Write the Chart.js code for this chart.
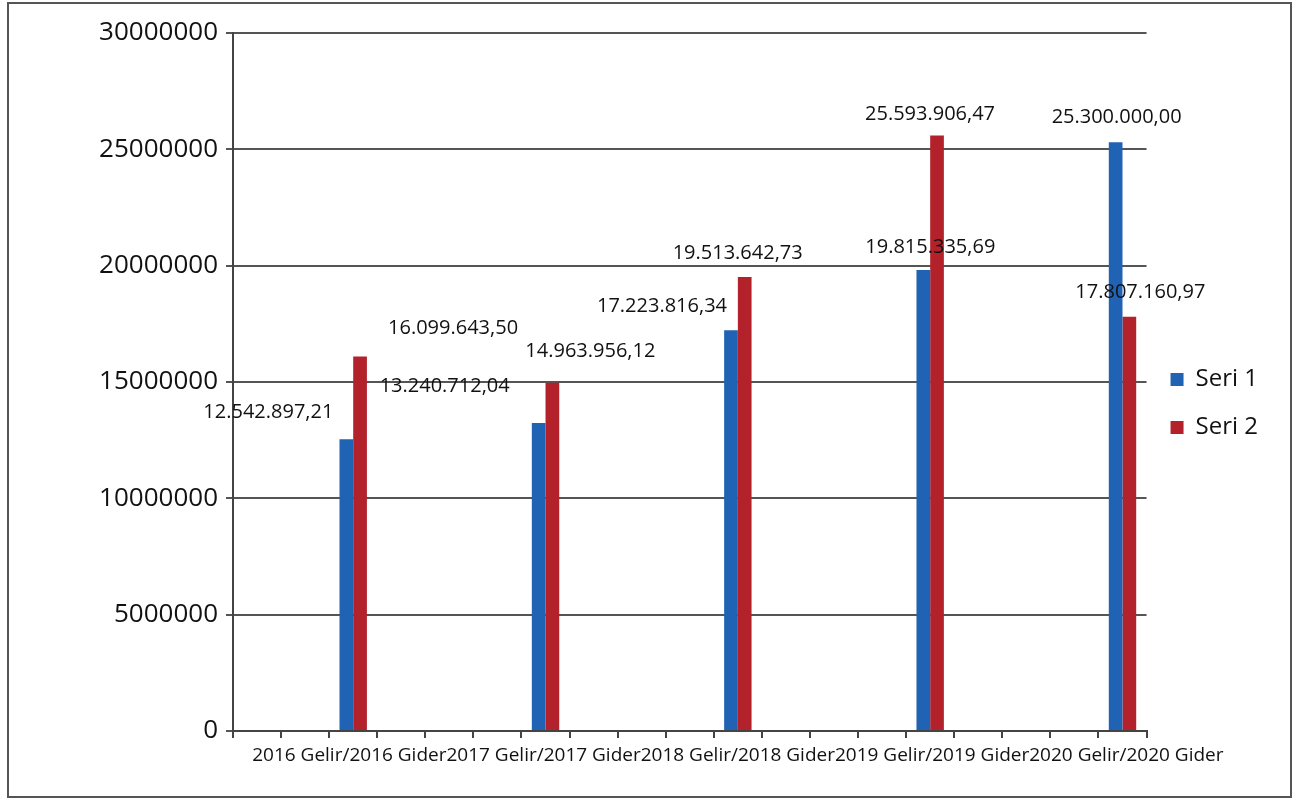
<!DOCTYPE html>
<html>
<head>
<meta charset="utf-8">
<script src="https://cdn.jsdelivr.net/npm/chart.js@4.4.0/dist/chart.umd.min.js"></script>
<style>
  body { margin: 0; background: #fff; }
  #wrap { position: relative; width: 1298px; height: 800px; }
  #frame { position: absolute; left: 7px; top: 2px; width: 1281px; height: 792px; border: 2px solid #555; pointer-events: none; }
</style>
</head>
<body>
<div id="wrap">
  <canvas id="gelirGiderChart" width="1298" height="800"></canvas>
  <div id="frame"></div>
</div>
<script>
// Kategoriler: 19 slot, veriler sadece 2, 6, 10, 14, 18. slotlarda
var xText = '2016 Gelir/2016 Gider2017 Gelir/2017 Gider2018 Gelir/2018 Gider2019 Gelir/2019 Gider2020 Gelir/2020 Gider';
var categories = ['', '', '', '', '', '', '', '', '', '', xText, '', '', '', '', '', '', '', ''];

// Seri 1 ve Seri 2 degerleri
var seri1 = [null, null, 12542897.21, null, null, null, 13240712.04, null, null, null, 17223816.34, null, null, null, 19815335.69, null, null, null, 25300000.00];
var seri2 = [null, null, 16099643.50, null, null, null, 14963956.12, null, null, null, 19513642.73, null, null, null, 25593906.47, null, null, null, 17807160.97];

var yTicks = [0, 5000000, 10000000, 15000000, 20000000, 25000000, 30000000];

// Etiketlerin cubuk ustune gore kaydirmasi (px)
var labelShift = [
    [[-78, -27], [-94, -37], [-69, -24], [7, -23], [1, -25]],
    [[93, -28], [38, -32], [-7, -24], [-7, -21], [11, -24]]
];

var font = "'Open Sans', 'Liberation Sans', sans-serif";

function formatTr(v) {
    var parts = v.toFixed(2).split('.');
    return parts[0].replace(/\B(?=(\d{3})+(?!\d))/g, '.') + ',' + parts[1];
}

var barLabels = {
    id: 'barLabels',
    afterDatasetsDraw: function(chart) {
        var ctx = chart.ctx;
        ctx.save();
        ctx.font = '20px ' + font;
        ctx.fillStyle = '#111';
        ctx.textAlign = 'center';
        ctx.textBaseline = 'middle';
        chart.data.datasets.forEach(function(ds, di) {
            var meta = chart.getDatasetMeta(di);
            var k = 0;
            ds.data.forEach(function(v, i) {
                if (v === null) return;
                var el = meta.data[i];
                var s = labelShift[di][k++];
                ctx.fillText(formatTr(v), el.x + s[0], el.y + s[1]);
            });
        });
        ctx.restore();
    }
};

var ctx = document.getElementById('gelirGiderChart').getContext('2d');
var chart = new Chart(ctx, {
    type: 'bar',
    data: {
        labels: categories,
        datasets: [
            { label: 'Seri 1', data: seri1, backgroundColor: '#2062b3' },
            { label: 'Seri 2', data: seri2, backgroundColor: '#b3222b' }
        ]
    },
    options: {
        responsive: false,
        animation: false,
        datasets: { bar: { categoryPercentage: 0.57, barPercentage: 1 } },
        layout: { padding: { top: 33, right: 30, bottom: 26, left: 0 } },
        scales: {
            x: {
                grid: { drawOnChartArea: false, drawTicks: true, tickLength: 7, color: '#444', lineWidth: 2, offset: true },
                border: { color: '#444', width: 2 },
                ticks: { autoSkip: false, maxRotation: 0, minRotation: 0, padding: 6, color: '#111', font: { family: font, size: 19 } },
                afterFit: function(scale) { scale.height = 43; }
            },
            y: {
                min: 0,
                max: 30000000,
                afterBuildTicks: function(scale) { scale.ticks = yTicks.map(function(v) { return { value: v }; }); },
                grid: { color: '#555', lineWidth: 2, tickLength: 7 },
                border: { color: '#444', width: 2 },
                ticks: { padding: 8, color: '#111', font: { family: font, size: 26 }, callback: function(v) { return String(v); } },
                afterFit: function(scale) { scale.width = 233; }
            }
        },
        plugins: {
            legend: {
                position: 'right',
                labels: { boxWidth: 13, boxHeight: 13, padding: 24, color: '#111', font: { family: font, size: 24 } }
            },
            tooltip: { enabled: false }
        }
    },
    plugins: [barLabels]
});
</script>
</body>
</html>
